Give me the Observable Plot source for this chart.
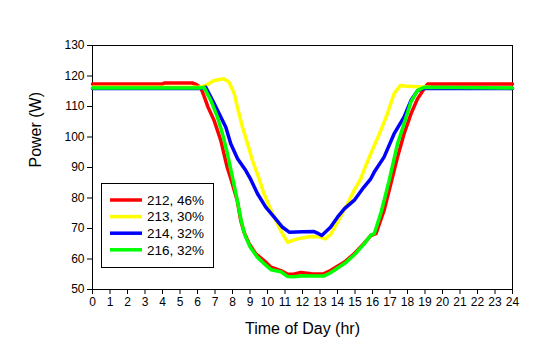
<!DOCTYPE html>
<html>
<head>
<meta charset="utf-8">
<script src="https://cdn.jsdelivr.net/npm/d3@7"></script>
<script src="https://cdn.jsdelivr.net/npm/@observablehq/plot@0.6"></script>
<style>
  html, body { margin: 0; padding: 0; background: #fff; }
  #chart svg { display: block; }
</style>
</head>
<body>
<div id="chart"></div>
<script>
const seriesNames = ["212, 46%", "213, 30%", "214, 32%", "216, 32%"];
const seriesColors = ["#ff0000", "#ffff00", "#0000ff", "#00ff00"];
const xTicks = d3.range(0, 25);
const yTicks = d3.range(50, 131, 10);

// [hour, watts]
const s212 = [[0,117.4],[4.0,117.4],[4.1,117.7],[5.7,117.7],[5.95,117.2],[6.2,116],[6.4,113],[6.6,109.8],[6.95,105.4],[7.33,98.9],[7.7,90],[7.95,85.5],[8.27,79.2],[8.47,72.6],[8.66,68.8],[8.95,65],[9.33,61.7],[9.8,59.5],[10.2,57.3],[10.76,56.2],[11.14,55.1],[11.5,55],[11.9,55.6],[12.5,55.2],[13.2,55.1],[13.6,56.2],[14.4,59],[14.95,61.7],[15.5,65],[15.9,67.7],[16.2,68.3],[16.66,75.9],[17.05,84.7],[17.43,93.4],[17.8,101],[18.2,107.6],[18.57,112.5],[18.95,115.8],[19.15,117.4],[24,117.4]];
const s213 = [[0,116.3],[6.1,116.3],[6.47,116.9],[6.95,118.5],[7.5,119.1],[7.8,118],[8.1,114.2],[8.28,109.8],[8.57,103.2],[8.86,97.8],[9.14,92.3],[9.52,86.3],[9.8,81.4],[10.29,74.8],[10.76,69.3],[11.14,65.5],[11.71,66.6],[12.47,67.4],[13.0,67.2],[13.3,66.6],[13.6,68],[14.0,72],[14.57,78.1],[14.95,82.5],[15.33,86.3],[15.5,89],[15.9,94.5],[16.47,102.1],[16.85,107.6],[17.23,114.2],[17.6,116.9],[18.0,116.6],[19.0,116.4],[19.5,116.1],[24,116.1]];
const s214 = [[0,115.9],[6.2,115.9],[6.47,116.3],[6.86,112],[7.24,107.6],[7.62,103.2],[7.9,97.8],[8.29,92.9],[8.76,89],[9.05,86],[9.43,81.4],[9.9,77],[10.38,73.7],[10.86,70.4],[11.24,68.8],[12.0,68.9],[12.66,69],[12.85,68.5],[13.1,67.7],[13.6,70.4],[14.0,73.7],[14.4,76.5],[14.95,79.2],[15.5,83.5],[15.9,86.3],[16.1,88.5],[16.66,93.4],[17.23,101],[17.8,106.5],[18.2,112],[18.57,115.2],[18.9,115.9],[24,115.9]];
const s216 = [[0,116.1],[6.1,116.1],[6.38,116.2],[6.76,112],[7.14,106.5],[7.43,101],[7.71,94.5],[8.0,86.8],[8.3,78.5],[8.5,72.5],[8.7,68],[9.0,64],[9.4,60.7],[9.8,58.5],[10.2,56.5],[10.76,55.8],[11.14,54.3],[11.5,54.2],[12,54.5],[12.5,54.4],[13.2,54.4],[13.6,55.5],[14.4,58.5],[14.95,61.3],[15.5,64.8],[15.9,67.8],[16.1,68.3],[16.5,75.5],[16.95,85.7],[17.43,97.8],[17.8,104.3],[18.19,111.4],[18.57,115.2],[18.95,116.3],[24,116.1]];

const allSeries = [s212, s213, s214, s216];
const rows = allSeries.flatMap((s, i) => s.map(([t, p]) => ({t, p, name: seriesNames[i]})));

const font = "'Liberation Sans', Arial, sans-serif";

const chart = Plot.plot({
  width: 541,
  height: 359,
  marginLeft: 92,
  marginRight: 29,
  marginTop: 45,
  marginBottom: 70,
  style: {fontFamily: font, fontSize: "12px", background: "#fff", color: "#000"},
  x: {domain: [0, 24]},
  y: {domain: [50, 130]},
  color: {domain: seriesNames, range: seriesColors},
  marks: [
    Plot.frame({stroke: "#000"}),
    Plot.line(rows, {x: "t", y: "p", z: "name", stroke: "name", strokeWidth: 3.5, strokeLinejoin: "round"}),
    Plot.axisX({ticks: xTicks, tickSize: 5, tickPadding: 3, label: null, fontSize: 12}),
    Plot.axisY({ticks: yTicks, tickSize: 5, tickPadding: 3, label: null, fontSize: 12}),
    Plot.text(["Time of Day (hr)"], {frameAnchor: "bottom", dy: 44, fontSize: 16}),
    Plot.text(["Power (W)"], {frameAnchor: "left", rotate: -90, dx: -57, fontSize: 16})
  ]
});

document.getElementById("chart").appendChild(chart);

// legend box inside the plot area
const svg = d3.select(chart);
const lg = svg.append("g").attr("font-family", font).attr("font-size", 13.5).attr("text-anchor", "start");
lg.append("rect").attr("x", 101.5).attr("y", 183.5).attr("width", 112).attr("height", 84)
  .attr("fill", "#fff").attr("stroke", "#000").attr("stroke-width", 1);
seriesNames.forEach((n, i) => {
  const y = 200 + i * 16.6;
  lg.append("line").attr("x1", 110).attr("x2", 142).attr("y1", y).attr("y2", y)
    .attr("stroke", seriesColors[i]).attr("stroke-width", 3.5);
  lg.append("text").attr("x", 147).attr("y", y).attr("dy", "0.35em").attr("text-anchor", "start").attr("fill", "#000").text(n);
});
</script>
</body>
</html>
